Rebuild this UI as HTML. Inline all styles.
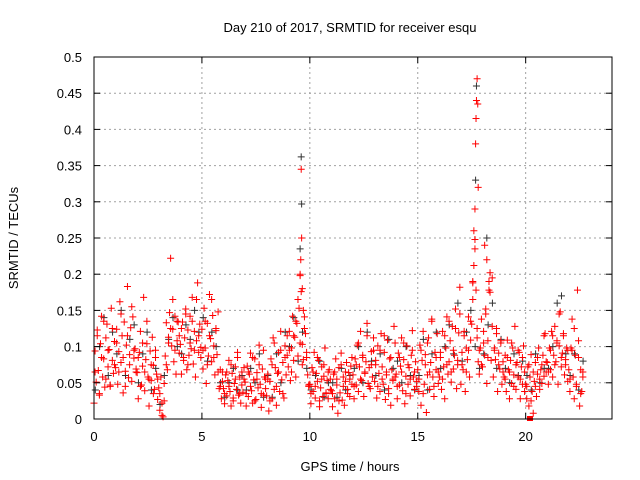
<!DOCTYPE html>
<html><head><meta charset="utf-8"><style>
body{margin:0;background:#fff}
svg{display:block;font-family:"Liberation Sans",sans-serif}
</style></head><body>
<svg id="chart" width="640" height="480" viewBox="0 0 640 480">
<rect width="640" height="480" fill="#fff"/>
<text x="350" y="32" font-size="13" text-anchor="middle">Day 210 of 2017, SRMTID for receiver esqu</text>
<text x="350" y="471" font-size="13" text-anchor="middle">GPS time / hours</text>
<text transform="translate(18,238) rotate(-90)" font-size="13" text-anchor="middle">SRMTID / TECUs</text>
<g id="grid"></g><g id="marks"></g><g id="axes"></g>
</svg>
<script>
const xTicks=[0,5,10,15,20];
const yTicks=[0,0.05,0.1,0.15,0.2,0.25,0.3,0.35,0.4,0.45,0.5];
const yTickLabels=["0","0.05","0.1","0.15","0.2","0.25","0.3","0.35","0.4","0.45","0.5"];
const hours=[0,1,2,3,4,5,6,7,8,9,10,11,12,13,14,15,16,17,18,19,20,21,22];
const redA=[
[.022,.094,.051,.123,.067,.033,.104,.142,.058,.083,.044,.112,.131,.072,.096,.047,.153,.081,.063,.107],
[.071,.124,.048,.093,.162,.078,.115,.036,.134,.066,.102,.183,.057,.089,.126,.052,.141,.084,.097,.069],
[.064,.028,.092,.121,.047,.073,.168,.039,.082,.104,.058,.018,.094,.053,.113,.074,.041,.085,.062,.027],
[.043,.012,.058,.022,.003,.049,.087,.133,.068,.113,.147,.222,.101,.124,.079,.142,.062,.108,.134,.091],
[.103,.062,.134,.081,.112,.152,.068,.123,.088,.142,.097,.168,.076,.121,.058,.108,.188,.092,.131,.099],
[.124,.069,.153,.098,.049,.132,.087,.172,.111,.079,.143,.101,.061,.122,.089,.148,.042,.068,.028,.052],
[.042,.021,.061,.032,.053,.081,.038,.018,.063,.029,.049,.072,.041,.092,.033,.058,.022,.047,.037,.071],
[.051,.018,.073,.031,.062,.091,.039,.022,.054,.083,.027,.064,.043,.102,.048,.016,.069,.033,.058,.042],
[.032,.062,.011,.052,.083,.028,.112,.041,.071,.019,.063,.092,.038,.121,.054,.078,.029,.101,.061,.088],
[.072,.121,.053,.098,.142,.081,.113,.058,.132,.087,.153,.198,.176,.103,.082,.141,.118,.092,.061,.047],
[.048,.021,.071,.038,.092,.029,.063,.052,.081,.017,.043,.072,.031,.059,.098,.036,.053,.028,.068,.041],
[.039,.017,.062,.028,.083,.047,.008,.071,.036,.091,.026,.058,.019,.052,.078,.041,.064,.031,.073,.048],
[.061,.028,.083,.047,.102,.038,.072,.121,.053,.088,.031,.063,.079,.132,.049,.071,.042,.093,.058,.112],
[.052,.081,.029,.101,.063,.038,.118,.072,.048,.092,.027,.061,.109,.042,.083,.019,.068,.053,.128,.058],
[.062,.028,.091,.047,.073,.112,.039,.082,.021,.059,.101,.048,.071,.032,.088,.122,.058,.041,.079,.052],
[.068,.038,.102,.019,.081,.121,.048,.089,.009,.061,.112,.041,.078,.138,.058,.031,.092,.068,.118,.049],
[.058,.092,.041,.121,.072,.028,.098,.141,.062,.079,.108,.051,.128,.069,.088,.152,.042,.081,.119,.182],
[.048,.092,.068,.121,.038,.098,.082,.141,.058,.109,.131,.188,.212,.248,.178,.112,.079,.062,.098,.138],
[.072,.121,.088,.152,.049,.108,.178,.202,.081,.128,.058,.098,.082,.118,.038,.091,.069,.108,.048,.079],
[.058,.088,.038,.109,.068,.028,.081,.049,.098,.061,.128,.041,.078,.058,.092,.028,.072,.048,.101,.038],
[.048,.028,.072,.018,.058,.089,.038,.008,.052,.078,.031,.062,.098,.041,.068,.049,.088,.059,.118,.079],
[.078,.048,.098,.068,.121,.058,.088,.128,.079,.108,.048,.101,.148,.072,.091,.118,.061,.082,.098,.052],
[.068,.038,.098,.138,.058,.028,.088,.048,.178,.108,.018,.068,.038,.058]];
const redB=[
[.065,.115,.035,.085,.135,.055,.095,.045,.125,.075],
[.105,.065,.145,.085,.045,.115,.075,.155,.095,.065],
[.085,.045,.105,.065,.135,.055,.075,.035,.095,.055],
[.035,.005,.025,.075,.105,.125,.165,.095,.135,.115],
[.125,.085,.145,.075,.105,.135,.095,.165,.115,.085],
[.095,.135,.075,.115,.165,.085,.125,.065,.045,.065],
[.035,.065,.045,.075,.025,.055,.085,.035,.065,.055],
[.035,.065,.045,.085,.025,.055,.075,.035,.095,.055],
[.055,.025,.075,.105,.045,.065,.095,.035,.085,.115],
[.095,.065,.115,.135,.165,.105,.075,.125,.085,.045],
[.035,.065,.045,.085,.025,.055,.075,.035,.065,.055],
[.035,.065,.055,.025,.075,.045,.065,.035,.055,.085],
[.045,.075,.105,.055,.085,.065,.115,.045,.075,.095],
[.075,.045,.095,.055,.115,.065,.035,.085,.055,.105],
[.045,.085,.065,.105,.035,.075,.055,.095,.065,.045],
[.055,.095,.035,.075,.105,.065,.135,.045,.085,.065],
[.085,.055,.115,.075,.135,.065,.095,.125,.075,.145],
[.075,.115,.065,.095,.135,.165,.235,.125,.095,.075],
[.105,.145,.085,.175,.195,.095,.125,.075,.105,.065],
[.055,.085,.065,.105,.045,.075,.095,.055,.085,.065],
[.045,.075,.025,.065,.045,.085,.055,.075,.115,.065],
[.065,.095,.115,.075,.105,.145,.085,.115,.075,.095],
[.055,.095,.125,.045,.085,.035,.065]];
const black=[
[.04,.10,.14,.06,.12],[.09,.15,.06,.11,.13],[.05,.09,.12,.04,.07],[.02,.06,.11,.14,.10],
[.09,.13,.11,.15,.12],[.14,.08,.12,.10,.05],[.03,.05,.07,.04,.06],[.04,.07,.05,.09,.03],
[.06,.03,.09,.05,.12],[.10,.14,.08,.12,.07],[.04,.06,.08,.03,.05],[.05,.03,.07,.04,.06],
[.07,.10,.05,.12,.08],[.06,.09,.04,.11,.07],[.08,.05,.10,.06,.04],[.06,.11,.04,.09,.12],
[.07,.10,.13,.09,.16],[.08,.12,.15,.10,.07],[.09,.13,.16,.07,.11],[.07,.05,.09,.06,.08],
[.06,.04,.09,.05,.07],[.07,.10,.16,.17,.09],[.06,.09,.04,.08]];
const spikeTimes=[9.55,9.58,9.6,9.62,9.65,9.7,17.55,17.6,17.65,17.68,17.7,17.72,17.75,17.78,17.8,18.1,18.2,18.3];
const spikeRed=[.20,.22,.345,.25,.18,.15,.19,.26,.29,.38,.415,.44,.47,.435,.32,.24,.22,.19];
const spikeBlackTimes=[9.55,9.6,9.62,17.68,17.72,18.2];
const spikeBlackValues=[.235,.362,.297,.33,.46,.25];

const X0=94,X1=612,Y0=419,Y1=57,XMAX=24,YMAX=0.5;
const xs=v=>X0+v/XMAX*(X1-X0);
const ys=v=>Y0-v/YMAX*(Y0-Y1);
const NS="http://www.w3.org/2000/svg";
function mk(tag,attrs,parent){const e=document.createElementNS(NS,tag);for(const k in attrs)e.setAttribute(k,attrs[k]);parent.appendChild(e);return e;}
const grid=document.getElementById('grid'),marks=document.getElementById('marks'),axes=document.getElementById('axes');
yTicks.forEach((t,i)=>{const y=ys(t);
 if(i>0&&i<yTicks.length-1){const g=mk('line',{x1:X0,x2:X1,y1:y,y2:y,stroke:'#a0a0a0','stroke-dasharray':'2,3'},grid);
 
 }
 mk('line',{x1:X0,x2:X0+6,y1:y,y2:y,stroke:'#000'},axes);
 mk('line',{x1:X1,x2:X1-6,y1:y,y2:y,stroke:'#000'},axes);
 const l=mk('text',{x:X0-12,y:y+5,'font-size':'13','text-anchor':'end'},axes);l.textContent=yTickLabels[i];
 
 
});
xTicks.forEach(t=>{const x=xs(t);
 if(t>0){const g=mk('line',{x1:x,x2:x,y1:Y0,y2:Y1,stroke:'#a0a0a0','stroke-dasharray':'2,3'},grid);
 
 }
 mk('line',{x1:x,x2:x,y1:Y0,y2:Y0-6,stroke:'#000'},axes);
 mk('line',{x1:x,x2:x,y1:Y1,y2:Y1+6,stroke:'#000'},axes);
 const l=mk('text',{x:x,y:Y0+22,'font-size':'13','text-anchor':'middle'},axes);l.textContent=String(t);
 
 
});
const frame=mk('rect',{x:X0,y:Y1,width:X1-X0,height:Y0-Y1,fill:'none',stroke:'#000'},axes);


function plus(t,v,color,name){const x=xs(t),y=ys(v);
 const p=mk('path',{d:`M${x-3.5},${y}h7M${x},${y-3.5}v7`,stroke:color,'stroke-width':'1',fill:'none'},marks);
 
 }
hours.forEach((h,i)=>{black[i].forEach((v,j)=>plus(h+(j+0.3)/5,v,'#333','black-point'));});
hours.forEach((h,i)=>{redA[i].forEach((v,j)=>plus(h+j/20,v,'#ff0000','red-point'));
 redB[i].forEach((v,j)=>plus(h+(j+0.5)/10,v,'#ff0000','red-point'));});
spikeBlackTimes.forEach((t,i)=>plus(t,spikeBlackValues[i],'#333','black-spike-point'));
spikeTimes.forEach((t,i)=>plus(t,spikeRed[i],'#ff0000','red-spike-point'));
const sq=mk('rect',{x:xs(20.2)-3,y:Y0-3,width:6,height:5,fill:'#ff0000'},marks);


</script>
</body></html>
